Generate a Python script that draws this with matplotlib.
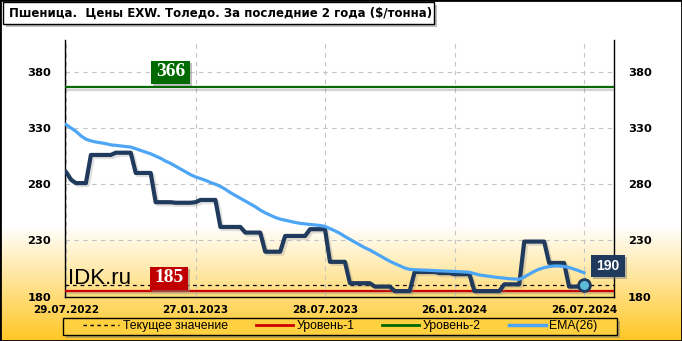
import numpy as np
import matplotlib
matplotlib.use("Agg")
import matplotlib.pyplot as plt
from matplotlib.patches import Rectangle
from matplotlib.lines import Line2D
import matplotlib.patheffects as pe

# ---------------- data ----------------
title = "Пшеница.  Цены EXW. Толедо. За последние 2 года ($/тонна)"
date_labels = ["29.07.2022", "27.01.2023", "28.07.2023", "26.01.2024", "26.07.2024"]
date_weeks = [0, 26, 52, 78, 104]
yticks = [180, 230, 280, 330, 380]

price = [291, 284, 281, 281, 281, 306, 306, 306, 306, 306,
         308, 308, 308, 308, 290, 290, 290, 290, 264, 264,
         264, 264, 263.5, 263.5, 263.5, 263.5, 264, 266, 266, 266,
         266, 242, 242, 242, 242, 242, 237, 237, 237, 237,
         220, 220, 220, 220, 234, 234, 234, 234, 234, 240,
         240, 240, 240, 211, 211, 211, 211, 192, 192, 192,
         192, 192, 189, 189, 189, 189, 185, 185, 185, 185,
         202, 202, 202, 202, 202, 201, 201, 201, 200, 200,
         200, 200, 185, 185, 185, 185, 185, 185, 191, 191,
         191, 191, 229, 229, 229, 229, 229, 210, 210, 210,
         210, 189, 189, 189, 190]

ema = [333, 330, 327, 323, 320, 318.5, 317.5, 316.8, 316, 315,
       314.5, 314, 313.5, 313, 311.5, 310, 308.5, 307, 305, 303,
       300.5, 298.5, 296, 293.5, 291, 288.5, 286.5, 285, 283.5, 281.5,
       280, 278, 275.5, 272.5, 270, 267.5, 265, 262.5, 260, 257,
       254.5, 252.5, 250.5, 249, 248, 247, 246, 245.2, 244.7, 244.2,
       243.8, 243.3, 242.5, 240.5, 238.5, 236.3, 233.5, 231, 228.5, 226,
       223.5, 221.5, 219, 216.5, 214, 211.5, 209.5, 207.5, 205.5, 204.3,
       204, 203.8, 203.6, 203.4, 203.2, 203, 202.8, 202.6, 202.4, 202.2,
       202, 201.7, 200.5, 199.3, 198.7, 198.1, 197.5, 196.9, 196.5, 196,
       195.7, 195.5, 197.5, 200, 202.5, 204.5, 205.8, 206.8, 207.3, 207.3,
       206.8, 206, 204.5, 203, 201.3]

level1 = 185
level2 = 366
current = 190
legend_labels = ["Текущее значение", "Уровень-1", "Уровень-2", "EMA(26)"]

# ---------------- styling ----------------
W, H = 682, 341
NAVY = "#1f3a5c"
BLUE = "#4da6f5"
RED = "#cc0000"
GREEN = "#006a00"
GRID = "#c4c4c4"

def fx(px):
    return px / W

def fy(py):
    return 1 - py / H

fig = plt.figure(figsize=(W / 100, H / 100), dpi=100)

# background gradient
bg = fig.add_axes([0, 0, 1, 1], zorder=-10)
rows = np.arange(H)
t = np.clip((rows - 225) / (H - 225), 0, 1)
top = np.array([1.0, 1.0, 1.0])
bot = np.array([255, 198, 35]) / 255
grad = top[None, :] * (1 - t[:, None]) + bot[None, :] * t[:, None]
bg.imshow(grad[:, None, :], aspect="auto", extent=[0, 1, 0, 1], origin="upper")
bg.set_axis_off()

# main axes
x0, x1, ytop, ybot = 65, 614, 40, 296.7
ax = fig.add_axes([fx(x0), fy(ybot), fx(x1 - x0), fy(ytop) - fy(ybot)], zorder=1)
ax.set_facecolor("none")
xs = np.arange(len(price))
ax.set_xlim(-0.2, (x1 - x0) / 4.99)
ax.set_ylim(180, 180 + (ybot - ytop) / 1.125)

for s in ["left", "right", "bottom"]:
    ax.spines[s].set_color("black")
    ax.spines[s].set_linewidth(1.0)
ax.spines["top"].set_visible(False)

ax.set_yticks(yticks)
ax.set_xticks(date_weeks)
ax.set_xticklabels(date_labels)
ax.grid(True, color=GRID, linestyle=(0, (4, 4)), linewidth=0.8)
ax.tick_params(axis="both", length=0)
ax.tick_params(axis="y", labelleft=True, labelright=True, left=False, right=False, pad=10)
ax.tick_params(axis="x", pad=6)
for lab in ax.get_yticklabels():
    lab.set_fontfamily("DejaVu Sans")
    lab.set_fontweight("bold")
    lab.set_fontsize(8.2)
for lab in ax.get_xticklabels():
    lab.set_fontfamily("DejaVu Sans")
    lab.set_fontweight("bold")
    lab.set_fontsize(7.5)

shadow = [pe.SimpleLineShadow(offset=(1.5, -1.5), shadow_color="gray", alpha=0.35), pe.Normal()]

ax.axhline(level2, color=GREEN, lw=1.6, zorder=3, path_effects=shadow)
ax.axhline(level1, color=RED, lw=1.6, zorder=3, path_effects=shadow)
ax.axhline(current, color="black", lw=0.9, linestyle=(0, (3, 3)), zorder=3)

ax.plot(xs, price, color=NAVY, lw=3.0, solid_joinstyle="round", solid_capstyle="round", zorder=4,
        path_effects=[pe.SimpleLineShadow(offset=(1.5, -1.5), shadow_color="gray", alpha=0.25), pe.Normal()])
ax.plot(xs, ema, color=BLUE, lw=2.3, zorder=5)
ax.plot([xs[-1]], [price[-1]], marker="o", markersize=8.5, markerfacecolor="#5cbcd8",
        markeredgecolor=NAVY, markeredgewidth=2.0, zorder=6, linestyle="none")

# labels on levels
def boxlabel(cx, cy, w, h, text, fc, family, size):
    ax_sh = Rectangle((fx(cx - w / 2 + 2), fy(cy + h / 2 + 2)), fx(w), fy(0) - fy(h), transform=fig.transFigure,
                      facecolor="gray", alpha=0.5, edgecolor="none", zorder=8)
    fig.add_artist(ax_sh)
    r = Rectangle((fx(cx - w / 2), fy(cy + h / 2)), fx(w), fy(0) - fy(h), transform=fig.transFigure,
                  facecolor=fc, edgecolor="none", zorder=9)
    fig.add_artist(r)
    fig.text(fx(cx), fy(cy), text, ha="center", va="center", color="white", fontsize=size,
             fontweight="bold", family=family, zorder=10)

boxlabel(170.5, 72, 39, 23, str(level2), GREEN, "Liberation Serif", 14)
boxlabel(169, 278, 38, 23, str(level1), "#c00000", "Liberation Serif", 14)
boxlabel(608, 266, 34, 22, str(current), NAVY, "Liberation Sans", 10)

fig.text(fx(68), fy(278), "IDK.ru", ha="left", va="center", fontsize=16, family="Liberation Sans",
         color="black", zorder=10)

# title box
fig.add_artist(Rectangle((fx(6), fy(27)), fx(431), fy(0) - fy(22), transform=fig.transFigure,
                         facecolor="gray", alpha=0.5, edgecolor="none", zorder=8))
fig.add_artist(Rectangle((fx(3), fy(24)), fx(431), fy(0) - fy(22), transform=fig.transFigure,
                         facecolor="white", edgecolor="black", lw=1, zorder=9))
ttl = fig.text(fx(9), fy(13.5), title, ha="left", va="center", fontsize=9.2, fontweight="bold",
               family="DejaVu Sans", zorder=10)
renderer = fig.canvas.get_renderer()
wpx = ttl.get_window_extent(renderer).width
if wpx > 0:
    ttl.set_fontsize(min(10.5, 9.2 * 421.0 / wpx))

# legend box
fig.add_artist(Rectangle((fx(66), fy(338)), fx(554), fy(0) - fy(17), transform=fig.transFigure,
                         facecolor="gray", alpha=0.5, edgecolor="none", zorder=8))
fig.add_artist(Rectangle((fx(63), fy(335)), fx(554), fy(0) - fy(17), transform=fig.transFigure,
                         facecolor="#ffd040", edgecolor="black", lw=1, zorder=9))
handles = [Line2D([], [], color="black", lw=1, linestyle=(0, (2.5, 2.5))),
           Line2D([], [], color=RED, lw=2),
           Line2D([], [], color=GREEN, lw=2),
           Line2D([], [], color=BLUE, lw=2.5)]
leg = fig.legend(handles, legend_labels, ncol=4, loc="center", bbox_to_anchor=(fx(340), fy(326.5)),
                 frameon=False, prop={"family": "Liberation Sans", "size": 8.8},
                 handlelength=3.0, handletextpad=0.3, columnspacing=2.3, borderpad=0)
leg.set_zorder(11)

# outer frame
fig.add_artist(Rectangle((0, 0), 1, 1, transform=fig.transFigure, fill=False, edgecolor="black",
                         lw=2, zorder=20))

fig.savefig("out.png", dpi=100)
